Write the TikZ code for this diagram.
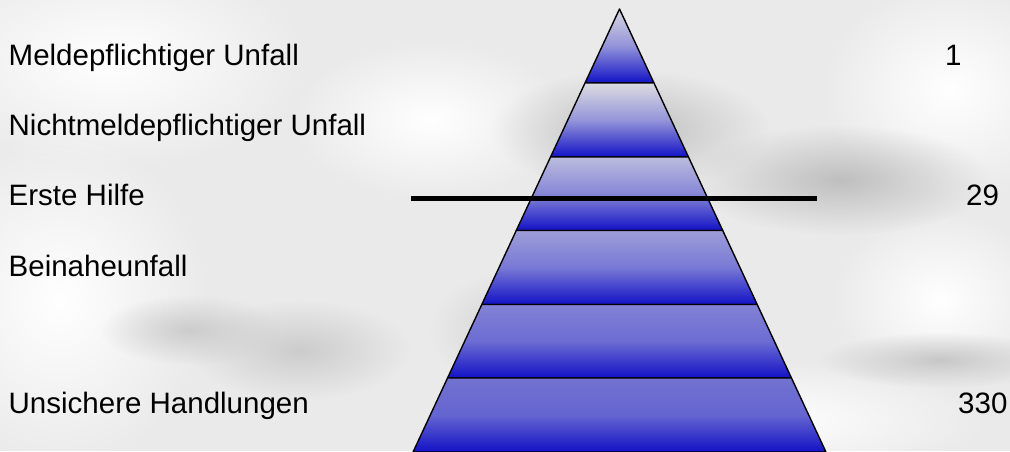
\documentclass[tikz,border=0pt]{standalone}
\usepackage{fontspec}
\setmainfont{Liberation Sans}
\usetikzlibrary{fadings}
\tikzfading[name=softblob, inner color=transparent!0, outer color=transparent!100]
\begin{document}
\begin{tikzpicture}[x=1pt,y=-1pt,
  lbl/.style={anchor=base west,inner sep=0pt,font=\fontsize{29.5}{35}\selectfont},
  band/.style={draw=black,line width=1.4pt,line join=round},
  blob/.style={fill=#1,path fading=softblob},
  bar/.style={line width=4.8pt,draw=black}]
\definecolor{bgc}{HTML}{EAEAEA}
\definecolor{bluebot}{HTML}{1212C6}
\definecolor{bluemid}{HTML}{5A5AD2}
\useasboundingbox (0,0) rectangle (1010,451);
\fill[bgc] (0,0) rectangle (1010,451);
% soft background texture
\fill[blob=white] (110,60) ellipse (200 and 110);
\fill[blob=white] (60,300) ellipse (150 and 170);
\fill[blob=white] (950,90) ellipse (130 and 110);
\fill[blob=white] (430,120) ellipse (140 and 80);
\fill[blob=white] (760,420) ellipse (230 and 60);
\fill[blob=white] (940,300) ellipse (110 and 90);
\fill[blob={black!25}] (630,130) ellipse (140 and 60);
\fill[blob={black!25}] (840,180) ellipse (150 and 55);
\fill[blob={black!20}] (300,350) ellipse (110 and 50);
\fill[blob={black!20}] (190,330) ellipse (90 and 35);
\fill[blob={black!22}] (940,360) ellipse (120 and 28);
\fill[blob={black!18}] (520,330) ellipse (90 and 60);
% pyramid bands
\def\ax{619.5}\def\ay{9}\def\sl{0.466}
\foreach \ya/\yb/\tc [count=\i] in {9/83/D8D8E2,83/157/DCDCE2,157/230.5/BCBCDE,230.5/304.5/9E9ED9,304.5/378/8282D5,378/452/7272D0}{
  \definecolor{topc}{HTML}{\tc}
  \shade[band,top color=topc,bottom color=bluebot,middle color={topc!45!bluemid}]
    ({\ax-\sl*(\ya-\ay)},\ya) -- ({\ax+\sl*(\ya-\ay)},\ya) --
    ({\ax+\sl*(\yb-\ay)},\yb) -- ({\ax-\sl*(\yb-\ay)},\yb) -- cycle;
}
% horizontal bar
\coordinate (barL) at (411,198.5);
\coordinate (barR) at (817,198.5);
\draw[bar] (barL) -- (barR);
% labels
\node[lbl] (l1) at (8.5,65) {Meldepflichtiger Unfall};
\node[lbl] (l2) at (8.5,135) {Nichtmeldepflichtiger Unfall};
\node[lbl] (l3) at (8.5,205.5) {Erste Hilfe};
\node[lbl] (l4) at (8.5,276) {Beinaheunfall};
\node[lbl] (l5) at (8.5,413) {Unsichere Handlungen};
\node[lbl] (n1) at (945,65) {1};
\node[lbl] (n2) at (966,205.5) {29};
\node[lbl] (n3) at (958,413) {330};
\end{tikzpicture}
\end{document}
